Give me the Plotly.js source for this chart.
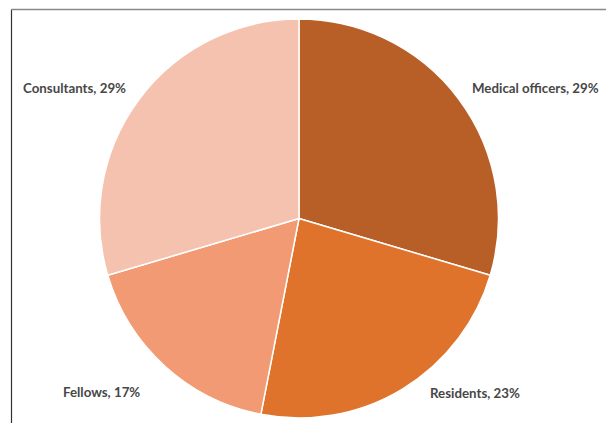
<!DOCTYPE html>
<html>
<head>
<meta charset="utf-8">
<script src="https://cdn.plot.ly/plotly-3.0.1.min.js"></script>
<style>html,body{margin:0;padding:0;background:#fff;}#chart{width:606px;height:423px;}</style>
</head>
<body>
<div id="chart"></div>
<script>
const categories = ["Medical officers", "Residents", "Fellows", "Consultants"];
const shares = [29, 23, 17, 29];
const colors = ["#B85E27", "#E0732C", "#F29A73", "#F5C2AF"];

// label anchor positions in pixels (annotation placement)
const labelPx = [[535, 88], [475, 393], [101, 392], [74, 88]];
const W = 598, T = 19, B = 418, H = B - T;

const annotations = categories.map((c, i) => ({
  text: c + ", " + shares[i] + "%",
  xref: "paper", yref: "paper",
  x: labelPx[i][0] / W, y: (B - labelPx[i][1]) / H,
  xanchor: "center", yanchor: "middle",
  showarrow: false,
  font: {family: "Lato, 'Open Sans', sans-serif", size: 13.3, color: "#474747", weight: 700}
}));

const data = [{
  type: "pie",
  labels: categories,
  values: shares,
  sort: false,
  direction: "clockwise",
  rotation: 0,
  textinfo: "none",
  marker: {colors: colors, line: {color: "#ffffff", width: 1.5}},
  showlegend: false
}];

const layout = {
  width: 606, height: 423,
  margin: {l: 0, r: 8, t: T, b: 423 - B},
  paper_bgcolor: "#ffffff",
  annotations: annotations,
  shapes: [
    {type: "line", xref: "paper", yref: "paper", x0: 11.5 / W, x1: 11.5 / W, y0: -0.05, y1: (B - 9.5) / H,
     line: {color: "#333", width: 1.2}},
    {type: "line", xref: "paper", yref: "paper", x0: 11.5 / W, x1: 1.05, y0: (B - 9.5) / H, y1: (B - 9.5) / H,
     line: {color: "#888", width: 1.5}}
  ]
};

Plotly.newPlot("chart", data, layout, {displayModeBar: false});
</script>
</body>
</html>
